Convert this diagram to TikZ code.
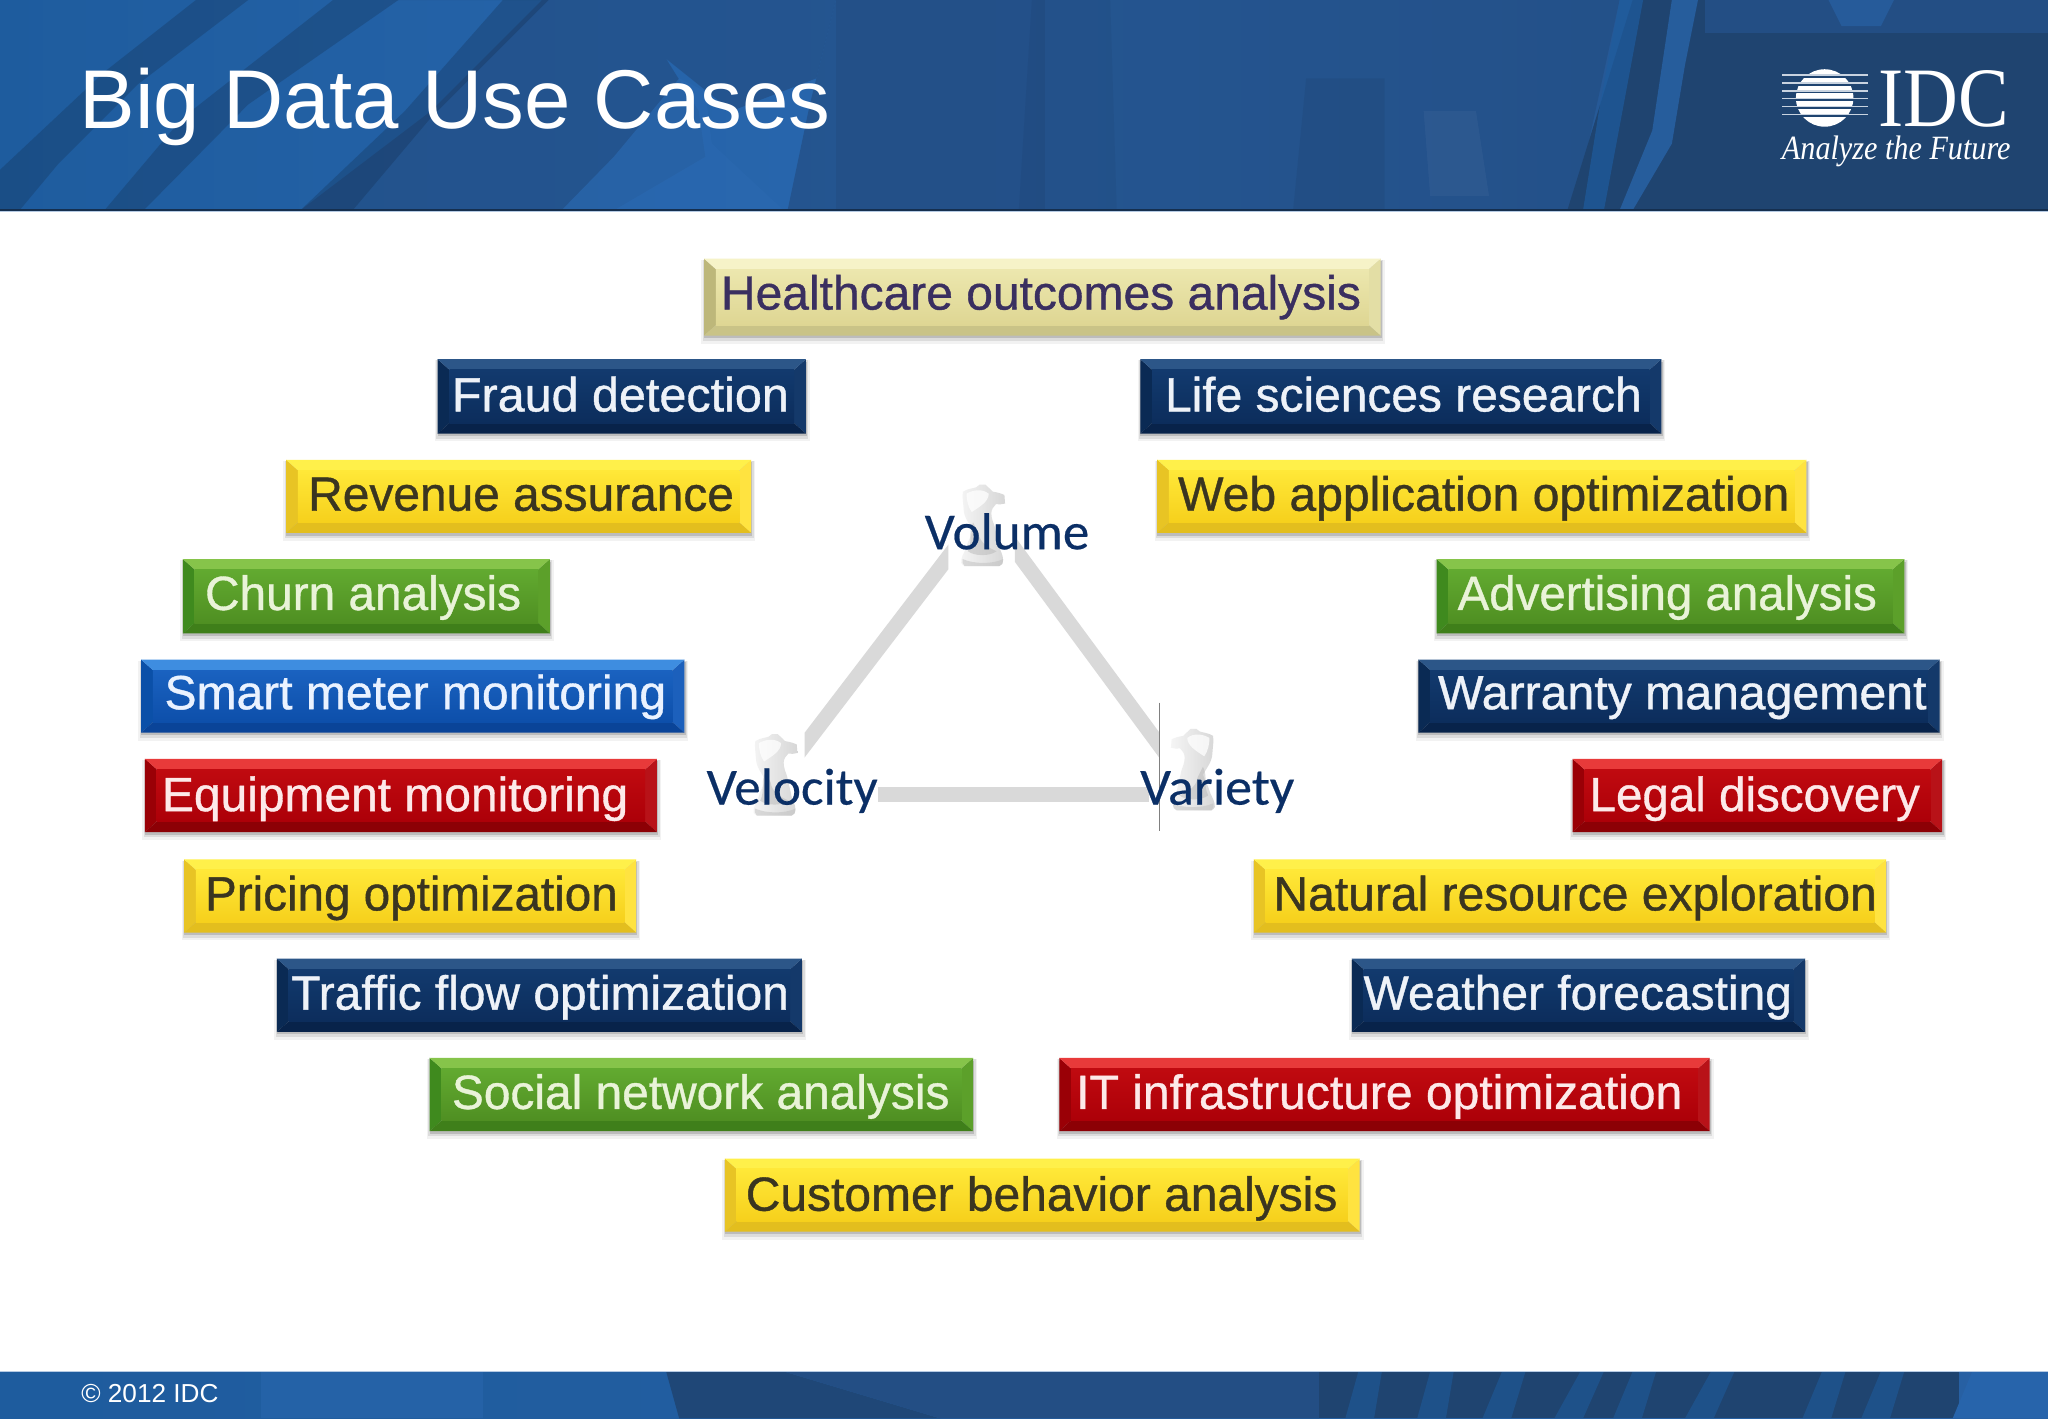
\documentclass[tikz,border=0pt]{standalone}
\usepackage{fontspec}
\usepackage{graphicx}
\usetikzlibrary{calc}
\setmainfont{Liberation Sans}
\newfontfamily\casefont[FakeBold=0.8]{Liberation Sans}
\newfontfamily\calfont[FakeBold=0.4]{Carlito}
\newfontfamily\logofont{Liberation Serif}
\definecolor{yelT}{HTML}{FFF04A}\definecolor{yelA}{HTML}{FFE838}\definecolor{yelB}{HTML}{F6D01C}\definecolor{yelD}{HTML}{E3BE1E}\definecolor{yelL}{HTML}{E8C424}\definecolor{yelR}{HTML}{FFE340}\definecolor{yelX}{HTML}{3A3520}
\definecolor{grnT}{HTML}{86C44A}\definecolor{grnA}{HTML}{62AA30}\definecolor{grnB}{HTML}{4F8F22}\definecolor{grnD}{HTML}{3F7F1A}\definecolor{grnL}{HTML}{3F8A1E}\definecolor{grnR}{HTML}{5CA02A}\definecolor{grnX}{HTML}{E9F3D8}
\definecolor{bluT}{HTML}{3E8DE0}\definecolor{bluA}{HTML}{1A62C0}\definecolor{bluB}{HTML}{0D4FAA}\definecolor{bluD}{HTML}{0A4498}\definecolor{bluL}{HTML}{0B50A8}\definecolor{bluR}{HTML}{1C60BC}\definecolor{bluX}{HTML}{EAF2FF}
\definecolor{redT}{HTML}{E83A3A}\definecolor{redA}{HTML}{C00A10}\definecolor{redB}{HTML}{AC0008}\definecolor{redD}{HTML}{8C0005}\definecolor{redL}{HTML}{9A0006}\definecolor{redR}{HTML}{B81218}\definecolor{redX}{HTML}{FDE9E9}
\definecolor{navT}{HTML}{2C5688}\definecolor{navA}{HTML}{123A6E}\definecolor{navB}{HTML}{0C2D5C}\definecolor{navD}{HTML}{08234A}\definecolor{navL}{HTML}{0A2A54}\definecolor{navR}{HTML}{14396A}\definecolor{navX}{HTML}{EEF2F8}
\definecolor{tanT}{HTML}{F6F3C8}\definecolor{tanA}{HTML}{ECE7AE}\definecolor{tanB}{HTML}{DED693}\definecolor{tanD}{HTML}{C9C387}\definecolor{tanL}{HTML}{BDB77A}\definecolor{tanR}{HTML}{E3DEA5}\definecolor{tanX}{HTML}{3A2F60}
\definecolor{bandA}{HTML}{1E5C9E}\definecolor{bandB}{HTML}{2A68B0}\definecolor{bandC}{HTML}{234E84}\definecolor{bandD}{HTML}{1F4470}
\definecolor{labelblue}{HTML}{0B2F66}
\tikzset{
  casetext/.style={text=#1X,inner sep=0pt,anchor=base},
  bar/.style={draw=black!15,line width=7.5pt,line cap=butt},
  darkpatch/.style={fill=black!45!bandC,opacity=.28},
  softpatch/.style={fill=bandC,opacity=.7},
  brightpatch/.style={fill=bandB,opacity=.7},
  logotext/.style={text=white,inner sep=0pt,anchor=base west},
  sizelabel/.style={text=labelblue,inner sep=0pt,anchor=base},
}
\newcommand\casebox[9]{%
  % #1 name, #2..#5 box, #6 colour prefix, #7 text left, #8 text right, #9 centre y
  \casetextbox{#1}{#2}{#3}{#4}{#5}{#6}{#7}{#8}{#9}}
\newcommand\casetextbox[9]{%
  \def\bn{#1}\def\bxa{#2}\def\bya{#3}\def\bxb{#4}\def\byb{#5}\def\bcol{#6}\def\bta{#7}\def\btb{#8}\def\byc{#9}%
  \casefinish}
\newcommand\casefinish[1]{%
  \pgfmathsetmacro\xi{\bxa+9}\pgfmathsetmacro\xj{\bxb-9}%
  \pgfmathsetmacro\yi{\bya+8}\pgfmathsetmacro\yj{\byb-8}%
  \fill[black,opacity=.05] (\bxa-2,\bya+1) rectangle (\bxb+3,\byb+6);
  \fill[black,opacity=.09] (\bxa-1,\bya+1) rectangle (\bxb+2,\byb+4);
  \fill[black,opacity=.14] (\bxa,\bya+2) rectangle (\bxb+1,\byb+2);
  \fill[\bcol L] (\bxa,\bya)--(\xi,\yi)--(\xi,\yj)--(\bxa,\byb)--cycle;
  \fill[\bcol R] (\bxb,\bya)--(\xj,\yi)--(\xj,\yj)--(\bxb,\byb)--cycle;
  \fill[\bcol T] (\bxa,\bya)--(\bxb,\bya)--(\xj,\yi)--(\xi,\yi)--cycle;
  \fill[\bcol D] (\bxa,\byb)--(\bxb,\byb)--(\xj,\yj)--(\xi,\yj)--cycle;
  \shade[top color=\bcol A,bottom color=\bcol B] (\xi,\yi) rectangle (\xj,\yj);
  \pgfmathsetmacro\tc{(\bta+\btb)/2}\pgfmathsetmacro\tb{\byc+12}%
  \pgfmathsetlengthmacro\tw{(\btb-\bta)*0.6531pt}%
  \node[casetext=\bcol] (\bn) at (\tc,\tb) {\resizebox{\tw}{\height}{\casefont\fontsize{24}{28}\selectfont #1}};
}
\newcommand\knight[2]{%
  \begin{scope}[shift={(#1)},#2]
    \shade[left color=black!4,right color=black!16]
      (2.5,63.5) .. controls (0,62) and (-1,60) .. (0,58.5)
      .. controls (1,54) and (3,52) .. (4,48.5)
      .. controls (5,44) and (8,40) .. (9,36)
      .. controls (6,31) and (2,26) .. (1.8,20)
      .. controls (1.5,15) and (0.5,10) .. (1.3,6.4)
      .. controls (5,4) and (9,4) .. (11.5,3)
      .. controls (13,1) and (15,0.5) .. (16.6,1)
      .. controls (18,0.5) and (19,1) .. (20,2.5)
      .. controls (22,4) and (23,5.5) .. (24,6.4)
      .. controls (28,7) and (31,8) .. (33,9)
      -- (33.5,15.5)
      .. controls (31,16.5) and (29,16) .. (26.5,16)
      .. controls (24.5,18) and (23,20) .. (23,23)
      .. controls (23,27) and (24.5,30) .. (25.5,33)
      .. controls (26.5,38) and (28,43) .. (29,48.5)
      .. controls (30,52) and (32,55) .. (32,58.7)
      .. controls (32.5,61) and (31,63) .. (29,63.5)
      -- cycle;
    \fill[white,opacity=.75] (4,8) .. controls (9,5) and (16,4) .. (21,8) .. controls (21,14) and (14,18) .. (8,22) .. controls (5,18) and (4,12) .. (4,8) -- cycle;
    \fill[black!30,opacity=.45] (9,30) .. controls (5,38) and (9,44) .. (5,52) .. controls (10,56) and (22,56) .. (27,52) .. controls (22,50) and (14,46) .. (13,38) -- cycle;
    \fill[black!25,opacity=.5] (1,58) .. controls (10,62) and (24,62) .. (32,58) .. controls (32,61) and (31,63) .. (29,63.5) -- (2.5,63.5) .. controls (1,62) and (0.5,60) .. (1,58) -- cycle;
  \end{scope}}
\begin{document}
\begin{tikzpicture}[x=0.6531pt,y=-0.6531pt]
\useasboundingbox (0,0) rectangle (1568,1085.7);
\fill[white] (0,0) rectangle (1568,1085.7);
% header band
\shade[left color=bandA,right color=bandC,middle color=bandB] (0,0) rectangle (1568,161);
\begin{scope}
\clip (0,0) rectangle (1568,161);
\fill[softpatch] (300,0)--(640,0)--(625,60)--(560,85)--(510,45)--(535,85)--(540,120)--(470,161)--(230,161)--(330,85)--(415,0)--cycle;
\fill[darkpatch] (150,0)--(190,0)--(105,65)--(45,125)--(15,161)--(0,161)--(0,130)--(80,55)--cycle;
\fill[darkpatch] (255,0)--(305,0)--(190,80)--(110,161)--(80,161)--(140,90)--cycle;
\fill[darkpatch] (385,0)--(420,0)--(330,90)--(270,161)--(230,161)--(310,85)--cycle;
\fill[brightpatch] (520,60)--(540,70)--(545,110)--(600,161)--(430,161)--(470,120)--cycle;
\fill[softpatch] (640,0)--(1240,0)--(1205,161)--(603,161)--(620,80)--cycle;
\fill[bandC,opacity=.6] (640,0) rectangle (800,161);
\fill[black,opacity=.04] (790,0)--(850,0)--(855,161)--(780,161)--cycle;
\fill[black,opacity=.05] (1000,60)--(1060,60)--(1060,161)--(990,161)--cycle;
\fill[white,opacity=.04] (1090,85)--(1130,85)--(1140,150)--(1095,150)--cycle;
\fill[bandD] (1250,0)--(1568,0)--(1568,161)--(1200,161)--cycle;
\fill[bandA,opacity=.7] (1240,0)--(1258,0)--(1245,70)--(1228,161)--(1212,161)--(1225,80)--cycle;
\fill[bandB,opacity=.7] (1280,0)--(1300,0)--(1290,50)--(1280,110)--(1250,161)--(1240,161)--(1265,100)--cycle;
\fill[bandC] (1305,0)--(1568,0)--(1568,25)--(1305,25)--cycle;
\fill[bandB,opacity=.5] (1400,0)--(1450,0)--(1440,20)--(1410,20)--cycle;
\end{scope}
\fill[black!40!bandC] (0,160) rectangle (1568,161.2);
\fill[bandB!35!white] (0,161.2) rectangle (1568,162);
% footer band
\shade[left color=bandA,right color=bandB!70!bandC] (0,1050.5) rectangle (1568,1085.7);
\begin{scope}
\clip (0,1050.5) rectangle (1568,1085.7);
\fill[bandB,opacity=.5] (200,1050) rectangle (370,1086);
\fill[bandD,opacity=.85] (510,1050)--(600,1050)--(720,1086)--(520,1086)--cycle;
\fill[bandC] (600,1050)--(1010,1050)--(1010,1086)--(720,1086)--cycle;
\fill[bandD] (1010,1050) rectangle (1500,1086);
\foreach \a/\b in {1040/1030,1095/1085,1150/1135,1210/1190,1250/1235,1310/1290,1395/1380,1440/1425}
  \fill[bandA,opacity=.55] (\a,1050)--(\a+18,1050)--(\b+22,1086)--(\b,1086)--cycle;
\fill[bandB!70!bandA] (1510,1050)--(1568,1050)--(1568,1086)--(1495,1086)--cycle;
\end{scope}
\fill[bandB!35!white] (0,1049.8) rectangle (1568,1050.6);
% title and footer text
\node[logotext,font=\fontsize{41.7}{48}\selectfont] (title) at (60.5,98) {Big Data Use Cases};
\node[logotext] (copy) at (62,1074) {\resizebox{68.6pt}{\height}{\fontsize{13}{15}\selectfont © 2012 IDC}};
% logo
\fill[white] (1397,75) circle [x radius=22,y radius=22];
\foreach \y in {58.5,64.5,70.5,76.5,82.5,88.5}
  \fill[bandD] (1364,\y-1) rectangle (1430,\y+1);
\foreach \y in {57.5,63.5,69.5,75.5,81.5,87.5}
  \fill[white!75!bandC] (1364,\y-.6) rectangle (1430,\y+.6);
\node[logotext] (idc) at (1438,97) {\resizebox{65.3pt}{28pt}{\logofont\fontsize{40}{44}\selectfont IDC}};
\node[logotext] (future) at (1364,122) {\resizebox{114.3pt}{\height}{\logofont\itshape\fontsize{17}{19}\selectfont Analyze the Future}};
% triangle
\coordinate (barAa) at (726,426.5);\coordinate (barAb) at (616,570.5);
\coordinate (barBa) at (777,420.5);\coordinate (barBb) at (888,571);
\coordinate (barCa) at (672,608.5);\coordinate (barCb) at (880,608.5);
\begin{scope}\clip (616,400) rectangle (726,640);\draw[bar] ($(barAa)!-.2!(barAb)$) -- ($(barAa)!1.2!(barAb)$);\end{scope}
\begin{scope}\clip (777,400) rectangle (888,640);\draw[bar] ($(barBa)!-.2!(barBb)$) -- ($(barBa)!1.2!(barBb)$);\end{scope}
\draw[bar] (barCa) -- (barCb);
\knight{736,370}{}
\knight{577,561}{}
\knight{930,557}{xscale=-1}
\draw[black!50,line width=.5pt] (888,538) -- (888,636);
\node[sizelabel] (vol) at (771,420.5) {\resizebox{82.3pt}{\height}{\calfont\fontsize{26}{30}\selectfont Volume}};
\node[sizelabel] (vel) at (606.5,616) {\resizebox{85.5pt}{\height}{\calfont\fontsize{26}{30}\selectfont Velocity}};
\node[sizelabel] (var) at (932,616) {\resizebox{77pt}{\height}{\calfont\fontsize{26}{30}\selectfont Variety}};
% use cases
\casebox{health}{539}{198}{1057}{257}{tan}{552}{1042}{225}{Healthcare  outcomes  analysis}
\casebox{fraud}{335}{275}{617}{332}{nav}{346}{604}{303}{Fraud detection}
\casebox{life}{873}{275}{1272}{332}{nav}{892}{1257}{303}{Life sciences research}
\casebox{rev}{219}{352}{575}{408}{yel}{236}{562}{379}{Revenue assurance}
\casebox{web}{886}{352}{1383}{408}{yel}{902}{1370}{379}{Web application optimization}
\casebox{churn}{140}{428}{421}{485}{grn}{157}{399}{455}{Churn analysis}
\casebox{adv}{1100}{428}{1458}{485}{grn}{1116}{1437}{455}{Advertising analysis}
\casebox{smart}{108}{505}{524}{561}{blu}{126}{510}{531}{Smart meter monitoring}
\casebox{warr}{1086}{505}{1485}{561}{nav}{1101}{1475}{531}{Warranty management}
\casebox{equip}{111}{581}{503}{637}{red}{124}{481}{609}{Equipment monitoring}
\casebox{legal}{1204}{581}{1487}{637}{red}{1217}{1470}{609}{Legal discovery}
\casebox{price}{141}{658}{487}{714}{yel}{157}{473}{685}{Pricing optimization}
\casebox{nat}{960}{658}{1444}{714}{yel}{975}{1437}{685}{Natural resource exploration}
\casebox{traf}{212}{734}{614}{790}{nav}{223}{604}{761}{Traffic flow optimization}
\casebox{wea}{1035}{734}{1382}{790}{nav}{1044}{1372}{761}{Weather forecasting}
\casebox{soc}{329}{810}{745}{866}{grn}{346}{727}{837}{Social network analysis}
\casebox{it}{811}{810}{1309}{866}{red}{824}{1288}{837}{IT infrastructure optimization}
\casebox{cust}{555}{887}{1041}{943}{yel}{571}{1024}{915}{Customer behavior analysis}
\end{tikzpicture}
\end{document}
